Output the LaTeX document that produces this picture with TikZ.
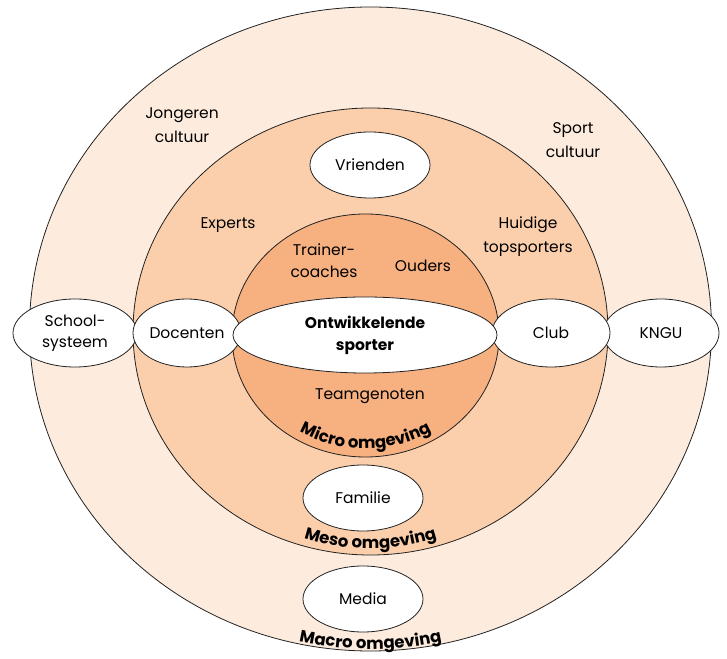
\documentclass[tikz,border=0pt]{standalone}
\usepackage{fontspec}
\setmainfont{Poppins}
\usetikzlibrary{shapes.geometric,decorations.text,calc}

\definecolor{macrofill}{HTML}{FDECDE}
\definecolor{mesofill}{HTML}{FBCFAC}
\definecolor{microfill}{HTML}{F7B080}
\definecolor{edge}{HTML}{222222}

\newcommand\ringlabelfont{\bfseries\fontsize{16.5}{18}\selectfont}

\tikzset{
  ring/.style={ellipse, draw=edge, line width=0.8pt, inner sep=0pt},
  actor/.style={ellipse, draw=edge, line width=0.8pt, fill=white, inner sep=0pt,
    align=center, font=\fontsize{15.5}{21}\selectfont},
  plain/.style={align=center, font=\fontsize{15.5}{24}\selectfont},
  ringlabel/.style={decorate, decoration={text along path, text align=center,
    text format delimiters={|}{|}}}
}

\begin{document}
\begin{tikzpicture}[x=1pt,y=1pt]
\useasboundingbox (0,0) rectangle (727,658);

% the three environments, outermost first
\node[ring, fill=macrofill, minimum width=682pt, minimum height=644pt] (macro) at (370.5,329) {};
\node[ring, fill=mesofill, minimum width=475pt, minimum height=447pt] (meso) at (370.5,326.5) {};
\node[ring, fill=microfill, minimum width=267pt, minimum height=243pt] (micro) at (365.5,322.5) {};

% free-standing labels
\node[plain] (jongeren) at (182,533) {Jongeren\\cultuur};
\node[plain] (sport) at (573,518) {Sport\\cultuur};
\node[plain] (experts) at (228,433) {Experts};
\node[plain] (topsport) at (528,421) {Huidige\\topsporters};
\node[plain, font=\fontsize{15.5}{22}\selectfont] (trainer) at (324,397) {Trainer-\\coaches};
\node[plain] (ouders) at (423,392) {Ouders};
\node[plain] (team) at (370,262) {Teamgenoten};

% actors on the rings
\node[actor, minimum width=120pt, minimum height=66pt] (vrienden) at (370,493) {Vrienden};
\node[actor, minimum width=120pt, minimum height=66pt] (familie) at (363,160) {Familie};
\node[actor, minimum width=120pt, minimum height=66pt] (media) at (363,59) {Media};
\node[actor, minimum width=124pt, minimum height=68pt] (school) at (75,325) {School-\\systeem};
\node[actor, minimum width=116pt, minimum height=68pt] (kngu) at (661,325) {KNGU};
\node[actor, minimum width=118pt, minimum height=68pt] (club) at (551,325) {Club};
\node[actor, minimum width=108pt, minimum height=68pt] (docenten) at (187,325) {Docenten};

% the athlete at the centre
\node[actor, minimum width=264pt, minimum height=76pt, font=\bfseries\fontsize{15.5}{22}\selectfont]
  (sporter) at (365,323) {Ontwikkelende\\sporter};

% curved ring names
\path[ringlabel, decoration={text={|\ringlabelfont|Micro\ omgeving}}]
  ($(micro.center)+(190:126 and 113)$) arc[start angle=190, end angle=350, x radius=126, y radius=113];
\path[ringlabel, decoration={text={|\ringlabelfont|Meso\ omgeving}}]
  ($(meso.center)+(220:218 and 217)$) arc[start angle=220, end angle=320, x radius=218, y radius=217];
\path[ringlabel, decoration={text={|\ringlabelfont|Macro\ omgeving}}]
  ($(macro.center)+(240:330 and 320)$) arc[start angle=240, end angle=300, x radius=330, y radius=320];
\end{tikzpicture}
\end{document}
